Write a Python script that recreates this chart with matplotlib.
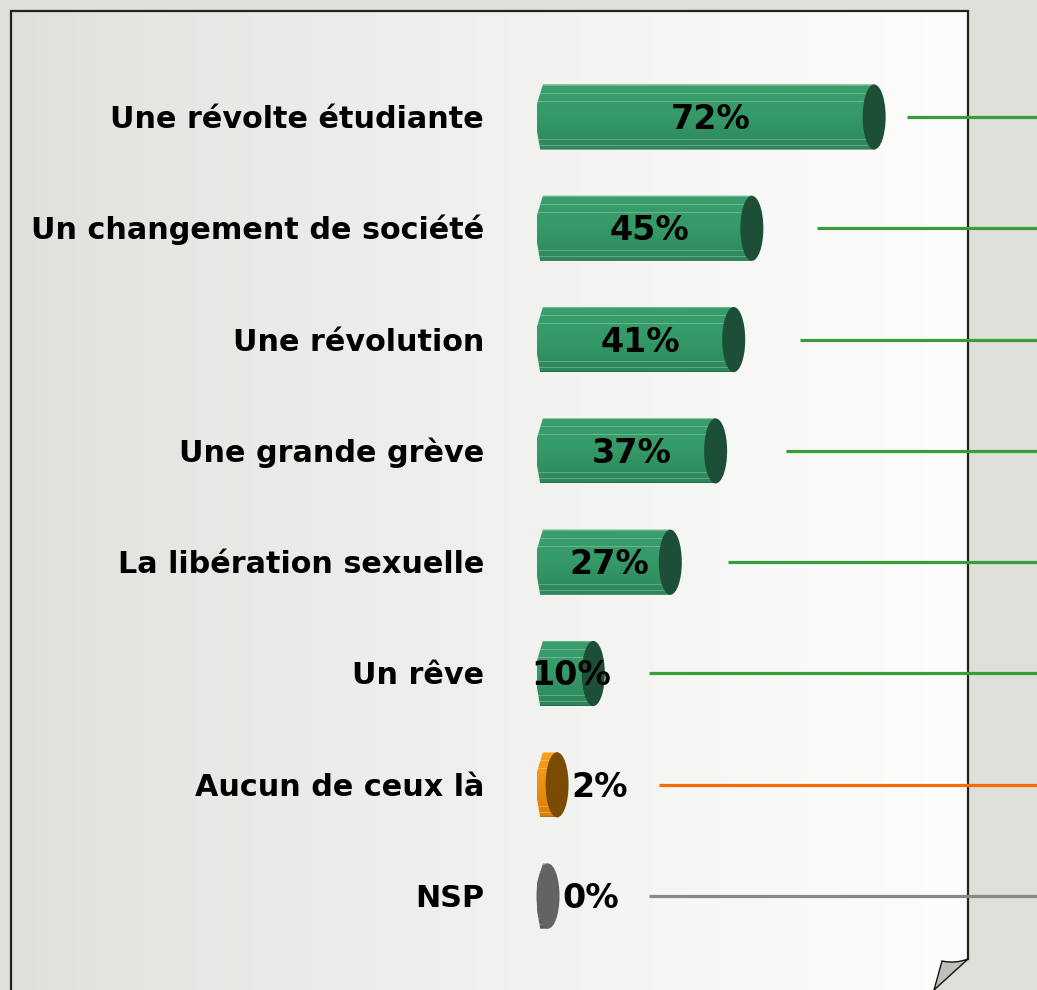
import numpy as np
import matplotlib
matplotlib.use("Agg")
import matplotlib.pyplot as plt
from matplotlib.patches import Polygon, Ellipse, PathPatch
from matplotlib.path import Path
from matplotlib.colors import to_rgb

# ---------------- data ----------------
categories = ["Une révolte étudiante", "Un changement de société", "Une révolution",
              "Une grande grève", "La libération sexuelle", "Un rêve",
              "Aucun de ceux là", "NSP"]
values = [72, 45, 41, 37, 27, 10, 2, 0]
value_labels = ["72%", "45%", "41%", "37%", "27%", "10%", "2%", "0%"]
groups = ["oui", "oui", "oui", "oui", "oui", "oui", "aucun", "nsp"]

# ---------------- style ----------------
W, H = 1037, 990
BG = "#dfdfda"
body_colors = {"oui": ("#3a9f6c", "#349a67", "#2d865a"),
               "aucun": ("#f7a21a", "#f09010", "#d97f08"),
               "nsp": ("#6a6a6a", "#646464", "#5a5a5a")}
cap_colors = {"oui": "#1d4f36", "aucun": "#7a4c02", "nsp": "#636363"}
line_colors = {"oui": "#3a9d3a", "aucun": "#ff6a00", "nsp": "#888888"}
leader_gap = [7.2, 14.4, 14.6, 15.5, 12.7, 12.3, 22.5, 22.3]

fig = plt.figure(figsize=(W / 100, H / 100), dpi=100)
fig.patch.set_facecolor(BG)

# background "paper" in pixel coordinates
bg = fig.add_axes([0, 0, 1, 1])
bg.set_xlim(0, W)
bg.set_ylim(H, 0)
bg.axis("off")

paper_verts = [(11, 11), (968, 11), (968, 959), (955, 964), (942, 961), (934, 995), (11, 995), (11, 11)]
paper = Polygon(paper_verts, closed=True, facecolor="none", edgecolor="none")
bg.add_patch(paper)
t = np.linspace(0, 1, 400)
c0 = np.array(to_rgb("#dedfda"))
c1 = np.array(to_rgb("#fdfdfd"))
prof = t ** 0.75
grad = c0[None, :] * (1 - prof[:, None]) + c1[None, :] * prof[:, None]
img = bg.imshow(grad[None, :, :], extent=(11, 968, 995, 11), aspect="auto", zorder=1)
img.set_clip_path(paper)
# border
bg.plot([11, 11, 968, 968], [995, 11, 11, 959], color="#222222", lw=1.6, zorder=2,
        solid_joinstyle="miter")
# curl
curl = Path([(968, 959), (955, 964), (942, 961), (934, 990), (968, 959)],
            [Path.MOVETO, Path.CURVE3, Path.CURVE3, Path.LINETO, Path.CLOSEPOLY])
bg.add_patch(PathPatch(curl, facecolor="#bfc0bc", edgecolor="#111111", lw=1.0, zorder=3))

# data axes (full figure)
ax = fig.add_axes([0, 0, 1, 1])
ax.patch.set_alpha(0)
px_per_unit = 4.53
x0pix = 548
ax.set_xlim(-x0pix / px_per_unit, (W - x0pix) / px_per_unit)
row0, rowstep = 117, 111.3
ax.set_ylim((H - row0) / rowstep, -row0 / rowstep)
ax.axis("off")

bar_h = 0.585
left = -11 / px_per_unit
cap_w = 23 / px_per_unit

def shade(c_top, c_mid, c_bot, n=65):
    ct, cm, cb = (np.array(to_rgb(c)) for c in (c_top, c_mid, c_bot))
    rows = []
    for i in range(n):
        f = i / (n - 1)
        if f < 0.5:
            c = ct * (1 - f * 2) + cm * (f * 2)
        else:
            c = cm * (1 - (f - 0.5) * 2) + cb * ((f - 0.5) * 2)
        rows.append(c)
    arr = np.array(rows)
    light = np.array([1, 1, 1])
    for s in (0.03, 0.14, 0.27, 0.84, 0.93):
        k = int(s * n)
        arr[k] = arr[k] * 0.75 + light * 0.25
    arr[-1] = arr[-1] * 0.85
    return arr[:, None, :]

for i, (cat, v, lab, g) in enumerate(zip(categories, values, value_labels, groups)):
    y = i
    top, bot = y - bar_h / 2, y + bar_h / 2
    # body with chamfered left end
    outline = [(left + 1.3, top), (v, top), (v, bot), (left + 0.7, bot),
               (left, bot - 0.28 * bar_h), (left, top + 0.3 * bar_h)]
    poly = Polygon(outline, closed=True, facecolor="none", edgecolor="none")
    ax.add_patch(poly)
    ct, cm, cb = body_colors[g]
    im = ax.imshow(shade(ct, cm, cb), extent=(left, v, bot, top), aspect="auto",
                   zorder=3, interpolation="nearest")
    im.set_clip_path(poly)
    # end cap
    ax.add_patch(Ellipse((v, y), cap_w, bar_h, facecolor=cap_colors[g],
                         edgecolor="none", zorder=4))
    # leader line
    ax.plot([v + leader_gap[i], ax.get_xlim()[1]], [y, y], color=line_colors[g],
            lw=2.3, solid_capstyle="butt", zorder=2)
    # category label
    ax.text(-14.1, y + 11 / rowstep, cat, ha="right", va="baseline", fontsize=21.8,
            fontweight="bold", family="DejaVu Sans", color="black", zorder=5)
    # value label
    if v >= 5:
        ax.text(v / 2, y + 12 / rowstep, lab, ha="center", va="baseline", fontsize=24,
                fontweight="bold", family="DejaVu Sans", color="black", zorder=5)
    else:
        ax.text(v + 3.2, y + 12 / rowstep, lab, ha="left", va="baseline", fontsize=24,
                fontweight="bold", family="DejaVu Sans", color="black", zorder=5)

fig.savefig("out.png", dpi=100, facecolor=BG)
